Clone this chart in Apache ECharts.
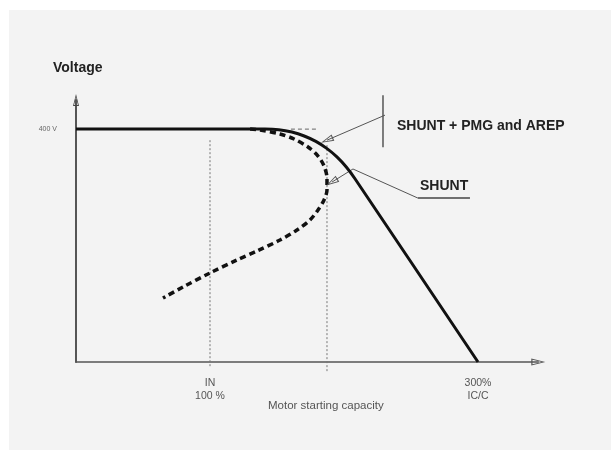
<!DOCTYPE html>
<html>
<head>
<meta charset="utf-8">
<script src="https://cdn.jsdelivr.net/npm/echarts@6/dist/echarts.min.js"></script>
<style>html,body{margin:0;padding:0;background:#fff;}#chart{width:611px;height:450px;}</style>
</head>
<body>
<div id="chart"></div>
<script>
// ---- data (x: % of motor starting capacity, y: voltage V) ----
const xTickValues = [100, 300];
const xTickLabels = ['IN\n100 %', '300%\nIC/C'];
const yTickValues = [400];
const yTickLabels = ['400 V'];

// SHUNT + PMG and AREP (solid)
const solidCurve = [
  [0, 400], [141.0, 400], [151.3, 398.9], [161.1, 394.9], [170.3, 388.2],
  [179.0, 378.9], [187.1, 366.9], [194.7, 352.3], [201.7, 334.9],
  [208.2, 314.8], [300, 0]
];
// SHUNT (dashed)
const shuntCurve = [
  [129.9, 400], [137.3, 398.5], [152.2, 391.7], [162.7, 383.0], [173.1, 369.3],
  [180.6, 353.8], [185.1, 336.6], [187.3, 316.0], [187.3, 295.4],
  [185.1, 278.2], [180.6, 261.1], [174.6, 243.9], [164.9, 226.7],
  [152.2, 209.5], [135.1, 190.6], [120.1, 175.2], [100, 152.9],
  [79.9, 128.8], [64.9, 109.9]
];
const refHorizontal = [[160.4, 400], [180.6, 400]];
const refIN = [[100, 381], [100, -8.5]];
const refKnee = [[187.3, 372.5], [187.3, -17]];
// annotation geometry (data coords)
const bracket = [[229.1, 458], [229.1, 369]];
const arrow1 = [[230.6, 424], [187.3, 381]];
const leader2 = [[255.2, 281.5], [206.7, 331.5]];
const arrow2 = [[206.7, 331.5], [191.0, 309]];
const underline2 = [[255.2, 281.5], [294.0, 281.5]];

const openArrow = 'path://M5,0 L10,20 L0,20 Z M5,5 L1.8,18.3 L8.2,18.3 Z';

const chart = echarts.init(document.getElementById('chart'), null, {renderer: 'canvas'});

function plain(data, style) {
  return {type: 'line', data: data, symbol: 'none', clip: false, silent: true,
    animation: false, lineStyle: style, z: 3};
}

chart.setOption({
  backgroundColor: '#ffffff',
  animation: false,
  grid: {left: 76, top: 100, width: 462.3, height: 262},
  graphic: [
    {type: 'rect', shape: {x: 9, y: 10, width: 602, height: 440}, style: {fill: '#f3f3f3'}, z: -10, silent: true},
    {type: 'text', left: 53, top: 61, style: {text: 'Voltage', font: 'bold 14px "Liberation Sans", Arial', fill: '#222'}},
    {type: 'text', left: 397, top: 119, style: {text: 'SHUNT + PMG and AREP', font: 'bold 14px "Liberation Sans", Arial', fill: '#222'}},
    {type: 'text', left: 420, top: 179, style: {text: 'SHUNT', font: 'bold 14px "Liberation Sans", Arial', fill: '#222'}},
    {type: 'text', left: 268, top: 400, style: {text: 'Motor starting capacity', font: '11.5px "Liberation Sans", Arial', fill: '#555'}}
  ],
  xAxis: {
    type: 'value', min: 0, max: 345, interval: 100,
    axisLine: {show: true, symbol: ['none', openArrow], symbolSize: [7, 16],
      lineStyle: {color: '#555', width: 1.5}},
    axisTick: {show: false}, splitLine: {show: false},
    axisLabel: {
      margin: 15, color: '#555', fontSize: 10.5, lineHeight: 13,
      fontFamily: '"Liberation Sans", Arial', showMaxLabel: false,
      formatter: v => { const i = xTickValues.indexOf(v); return i >= 0 ? xTickLabels[i] : ''; }
    }
  },
  yAxis: {
    type: 'value', min: 0, max: 450, interval: 400,
    axisLine: {show: true, symbol: ['none', openArrow], symbolSize: [6, 14],
      lineStyle: {color: '#444', width: 1.8}},
    axisTick: {show: false}, splitLine: {show: false},
    axisLabel: {
      margin: 19, color: '#666', fontSize: 7, fontFamily: '"Liberation Sans", Arial',
      formatter: v => { const i = yTickValues.indexOf(v); return i >= 0 ? yTickLabels[i] : ''; }
    }
  },
  series: [
    plain(refIN, {color: '#777', width: 1, type: [2, 2]}),
    plain(refKnee, {color: '#777', width: 1, type: [2, 2]}),
    plain(refHorizontal, {color: '#666', width: 1, type: [4, 3]}),
    Object.assign(plain(shuntCurve, {color: '#111', width: 3.5, type: [6, 4]}), {smooth: 0.3, z: 4}),
    Object.assign(plain(solidCurve, {color: '#111', width: 3}), {smooth: 0.25, z: 5}),
    plain(bracket, {color: '#555', width: 1.5}),
    plain(leader2, {color: '#555', width: 1}),
    plain(underline2, {color: '#444', width: 1.5}),
    {
      type: 'line', data: [], silent: true, animation: false,
      markLine: {
        silent: true, animation: false, symbol: ['none', openArrow], symbolSize: [7, 13],
        label: {show: false}, lineStyle: {color: '#555', width: 1, type: 'solid'},
        data: [
          [{coord: arrow1[0]}, {coord: arrow1[1]}],
          [{coord: arrow2[0]}, {coord: arrow2[1]}]
        ]
      }
    }
  ]
});
</script>
</body>
</html>
